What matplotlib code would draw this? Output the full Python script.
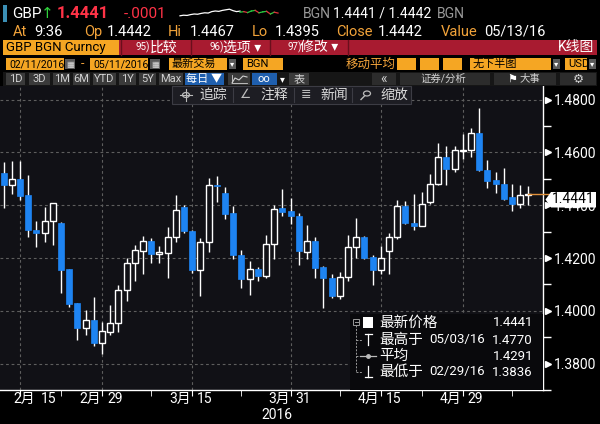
import numpy as np
import matplotlib.pyplot as plt
from matplotlib.patches import Rectangle, Polygon, Circle
from matplotlib.lines import Line2D
from matplotlib.transforms import blended_transform_factory

plt.rcParams['font.family'] = ['Roboto', 'Noto Sans CJK SC', 'DejaVu Sans']

# daily candles GBP BGN, 02/11/2016 - 05/11/2016
dates = ['02/11', '02/12', '02/15', '02/16', '02/17', '02/18', '02/19', '02/22', '02/23', '02/24',
         '02/25', '02/26', '02/29', '03/01', '03/02', '03/03', '03/04', '03/07', '03/08', '03/09',
         '03/10', '03/11', '03/14', '03/15', '03/16', '03/17', '03/18', '03/21', '03/22', '03/23',
         '03/24', '03/25', '03/28', '03/29', '03/30', '03/31', '04/01', '04/04', '04/05', '04/06',
         '04/07', '04/08', '04/11', '04/12', '04/13', '04/14', '04/15', '04/18', '04/19', '04/20',
         '04/21', '04/22', '04/25', '04/26', '04/27', '04/28', '04/29', '05/02', '05/03', '05/04',
         '05/05', '05/06', '05/09', '05/10', '05/11']
opens = [1.4522, 1.4476, 1.4501, 1.4437, 1.4307, 1.4295, 1.4339, 1.4332, 1.4157, 1.4028,
         1.3934, 1.3967, 1.3879, 1.3918, 1.3954, 1.4078, 1.4181, 1.4226, 1.4266, 1.4217,
         1.4218, 1.4281, 1.4394, 1.4302, 1.4154, 1.4259, 1.4478, 1.4446, 1.4370, 1.4212,
         1.4120, 1.4159, 1.4132, 1.4253, 1.4388, 1.4378, 1.4360, 1.4224, 1.4265, 1.4165,
         1.4124, 1.4055, 1.4128, 1.4240, 1.4278, 1.4205, 1.4156, 1.4226, 1.4280, 1.4396,
         1.4332, 1.4323, 1.4412, 1.4479, 1.4582, 1.4539, 1.4606, 1.4608, 1.4673, 1.4533,
         1.4495, 1.4482, 1.4433, 1.4406, 1.4440]
highs = [1.4564, 1.4567, 1.4567, 1.4516, 1.4339, 1.4395, 1.4409, 1.4335, 1.4160, 1.4031,
         1.4003, 1.4052, 1.3958, 1.4023, 1.4096, 1.4200, 1.4248, 1.4284, 1.4277, 1.4245,
         1.4317, 1.4437, 1.4401, 1.4307, 1.4277, 1.4503, 1.4512, 1.4469, 1.4396, 1.4229,
         1.4188, 1.4165, 1.4286, 1.4402, 1.4460, 1.4427, 1.4370, 1.4325, 1.4280, 1.4171,
         1.4140, 1.4146, 1.4287, 1.4351, 1.4284, 1.4213, 1.4244, 1.4293, 1.4421, 1.4417,
         1.4441, 1.4451, 1.4519, 1.4636, 1.4624, 1.4624, 1.4669, 1.4693, 1.4770, 1.4570,
         1.4527, 1.4543, 1.4479, 1.4475, 1.4473]
lows = [1.4389, 1.4443, 1.4419, 1.4281, 1.4242, 1.4260, 1.4251, 1.4067, 1.4016, 1.3889,
        1.3907, 1.3865, 1.3836, 1.3907, 1.3918, 1.4038, 1.4114, 1.4140, 1.4181, 1.4182,
        1.4124, 1.4259, 1.4296, 1.4142, 1.4058, 1.4223, 1.4411, 1.4346, 1.4195, 1.4087,
        1.4060, 1.4114, 1.4125, 1.4198, 1.4360, 1.4328, 1.4173, 1.4195, 1.4125, 1.4010,
        1.4050, 1.4043, 1.4112, 1.4201, 1.4195, 1.4097, 1.4140, 1.4140, 1.4271, 1.4329,
        1.4307, 1.4323, 1.4406, 1.4475, 1.4475, 1.4527, 1.4576, 1.4582, 1.4531, 1.4467,
        1.4448, 1.4418, 1.4378, 1.4390, 1.4400]
closes = [1.4476, 1.4501, 1.4435, 1.4305, 1.4295, 1.4339, 1.4407, 1.4154, 1.4025, 1.3934,
          1.3965, 1.3879, 1.3922, 1.3954, 1.4078, 1.4181, 1.4230, 1.4266, 1.4214, 1.4222,
          1.4281, 1.4382, 1.4301, 1.4153, 1.4259, 1.4478, 1.4472, 1.4367, 1.4210, 1.4119,
          1.4157, 1.4132, 1.4255, 1.4384, 1.4376, 1.4358, 1.4228, 1.4265, 1.4161, 1.4123,
          1.4055, 1.4128, 1.4240, 1.4278, 1.4201, 1.4155, 1.4201, 1.4280, 1.4396, 1.4332,
          1.4323, 1.4405, 1.4479, 1.4582, 1.4539, 1.4608, 1.4610, 1.4673, 1.4533, 1.4491,
          1.4481, 1.4424, 1.4406, 1.4439, 1.4441]

tick_dates = ['02/15', '02/29', '03/15', '03/31', '04/15', '04/29']
tick_months = ['2月', '2月', '3月', '3月', '4月', '4月']
tick_days = ['15', '29', '15', '31', '15', '29']
minor_dates = ['02/22', '03/08', '03/23', '04/08', '04/22', '05/09']
price_levels = [1.38, 1.40, 1.42, 1.44, 1.46, 1.48]
price_labels = ['1.3800', '1.4000', '1.4200', '1.4400', '1.4600', '1.4800']
minor_levels = [1.37, 1.39, 1.41, 1.43, 1.45, 1.47]
last_price = 1.4441

# intraday sparkline in the header (rough shape)
spark_white = [0.35, 0.4, 0.38, 0.45, 0.5, 0.48, 0.55, 0.6, 0.58, 0.7, 0.75, 0.72, 0.8, 0.85, 0.9, 0.78, 0.7, 0.74]
spark_color = [0.65, 0.7, 0.62, 0.75, 0.8, 0.6, 0.68, 0.72, 0.5, 0.65, 0.58]

W, H = 600, 424
BG = '#111116'
BLUE = '#1e84f2'
AMBER = '#f2a33a'

fig = plt.figure(figsize=(6, 4.24), dpi=100, facecolor='black')


def fx(x):
    return x / W


def fy(y):
    return 1 - y / H


def txt(x, y, s, c='white', size=10, ha='left', **kw):
    fig.text(fx(x), fy(y), s, color=c, fontsize=size, ha=ha, va='center', **kw)


def box(x0, y0, x1, y1, c, z=1, ec='none', lw=0):
    fig.add_artist(Rectangle((fx(x0), fy(y1)), (x1 - x0) / W, (y1 - y0) / H,
                             transform=fig.transFigure, facecolor=c, edgecolor=ec,
                             linewidth=lw, zorder=z))


def line(xs, ys, c='white', lw=1, z=2, **kw):
    fig.add_artist(Line2D([fx(v) for v in xs], [fy(v) for v in ys], color=c, lw=lw,
                          transform=fig.transFigure, zorder=z, **kw))


def ring(x, y, r, c, lw=0.9, z=4):
    fig.add_artist(Circle((fx(x), fy(y)), r / W, transform=fig.transFigure, fill=False,
                          edgecolor=c, lw=lw, zorder=z))


# ---------- header ----------
box(3, 5, 7, 22, '#3b8fb5')
txt(12, 14, 'GBP', 'white', 11)
txt(41, 14, '↑', '#2fd13c', 11, family='DejaVu Sans')
txt(57, 14, '1.4441', '#ff3347', 12, weight='bold')
txt(124, 14, '-.0001', '#ff3347', 11)
sx = np.linspace(180, 240, len(spark_white))
line(sx, [20 - 12 * v for v in spark_white], 'white', 0.9)
sx2 = np.linspace(240, 278, len(spark_color))
sy2 = [20 - 12 * v for v in spark_color]
for k in range(len(sx2) - 1):
    line(sx2[k:k + 2], sy2[k:k + 2], '#28c840' if sy2[k + 1] <= sy2[k] else '#e0303c', 0.9)
txt(303, 14, 'BGN', '#9a9a9a', 10)
txt(333, 14, '1.4441 / 1.4442', 'white', 10)
txt(437, 14, 'BGN', '#9a9a9a', 10)

row2 = [(13, 'At', AMBER), (34, '9:36', 'white'), (84, 'Op', AMBER), (107, '1.4442', 'white'),
        (168, 'Hi', AMBER), (190, '1.4467', 'white'), (252, 'Lo', AMBER), (275, '1.4395', 'white'),
        (336, 'Close', AMBER), (378, '1.4442', 'white'), (441, 'Value', AMBER), (484, '05/13/16', 'white')]
for x0, s, c in row2:
    txt(x0, 32, s, c, 10.5)

# red command bar
box(3, 40, 597, 55, '#a81b30')
box(3, 40, 119, 55, '#f5a623')
txt(6, 47.5, 'GBP BGN Curncy', 'black', 9.5)
for xs in [121, 191, 270, 348]:
    line([xs, xs], [40, 55], '#6a0f1c', 1, 3)
txt(136, 47.5, '95)', 'white', 7)
txt(150, 47.5, '比较', 'white', 10)
txt(210, 47.5, '96)', 'white', 7)
txt(223, 47.5, '选项 ▾', 'white', 10)
txt(287, 47.5, '97)', 'white', 7)
txt(300, 47.5, '修改 ▾', 'white', 10)
txt(594, 47.5, 'K线图', 'white', 10, ha='right')

# option row
for x0, x1, s in [(6, 64, '02/11/2016'), (90, 148, '05/11/2016'), (169, 227, '最新交易'),
                  (243, 283, 'BGN'), (470, 551, '无下半图'), (565, 587, 'USD')]:
    box(x0, 58, x1, 70, '#f5a623')
    txt(x0 + 3, 64, s, 'black', 7.5 if '/' in s else 8)
for x0 in [65, 150]:
    box(x0, 59, x0 + 10, 69, '#5a5a5a')
    txt(x0 + 5, 64, '▦', '#dddddd', 6, ha='center', family='DejaVu Sans')
txt(81, 64, '-', AMBER, 9)
for x0 in [229, 553, 589]:
    box(x0, 59, x0 + 7, 69, '#5a5a5a')
    txt(x0 + 3.5, 64, '▾', 'white', 6, ha='center', family='DejaVu Sans')
txt(346, 64, '移动平均', AMBER, 9)
for x0, x1 in [(397, 416), (420, 439), (443, 462)]:
    box(x0, 58, x1, 70, '#f5a623')

# range buttons row
box(3, 72, 597, 86, '#161616')
for x0, x1, s in [(6, 25, '1D'), (29, 50, '3D'), (53, 70, '1M'), (73, 90, '6M'), (93, 116, 'YTD'),
                  (119, 136, '1Y'), (139, 156, '5Y'), (159, 183, 'Max')]:
    box(x0, 73, x1, 85, '#3a3a3a')
    txt((x0 + x1) / 2, 79, s, '#d0d0d0', 8, ha='center')
box(185, 73, 224, 85, '#1f5fae')
txt(204, 79, '每日 ▼', 'white', 8, ha='center')
box(228, 73, 250, 85, '#3a3a3a')
line([232, 235, 239, 243, 247], [83, 78, 80, 76, 77], '#d0d0d0', 0.8, 3)
line([232, 232, 247], [75, 83, 83], '#d0d0d0', 0.6, 3)
box(252, 73, 277, 85, '#1f5fae')
txt(264, 79, 'oo', 'white', 8, ha='center')
txt(282, 79, '▾', 'white', 7, ha='center', family='DejaVu Sans')
box(289, 73, 309, 85, '#3a3a3a')
txt(299, 79, '表', '#d0d0d0', 8, ha='center')
box(372, 73, 396, 85, '#2c2c2c')
txt(384, 79, '«', '#d0d0d0', 10, ha='center')
box(400, 73, 490, 85, '#2c2c2c')
txt(420, 79, '证券/分析', '#d0d0d0', 7.5)
box(494, 73, 556, 85, '#2c2c2c')
txt(507, 79, '⚑', 'white', 8, family='DejaVu Sans')
txt(520, 79, '大事', '#d0d0d0', 7.5)
box(560, 73, 596, 85, '#2c2c2c')
txt(578, 79, '⚙', '#d0d0d0', 9, ha='center', family='DejaVu Sans')

# ---------- candlestick chart ----------
ax = fig.add_axes([0, fy(390), 543 / W, (390 - 86) / H])
ax.set_facecolor(BG)
ax.set_xlim(-0.44, 65.78)
ax.set_ylim(1.37423, 1.48518)

x = np.arange(len(dates))
o = np.array(opens)
c = np.array(closes)
up = c >= o
bottom = np.minimum(o, c)
height = np.maximum(np.abs(c - o), 0.00035)

for lvl in price_levels:
    ax.axhline(lvl, color='#5e5e5e', lw=0.8, ls=(0, (2.5, 2.5)), zorder=1)
major_idx = [dates.index(d) for d in tick_dates]
minor_idx = [dates.index(d) for d in minor_dates]
for i in major_idx:
    ax.axvline(i, color='#5e5e5e', lw=0.8, ls=(0, (2.5, 2.5)), zorder=1)

ax.vlines(x, lows, highs, color='white', lw=1, zorder=2)
ax.bar(x[up], height[up], bottom=bottom[up], width=0.72, facecolor=BG,
       edgecolor='white', lw=1, zorder=3)
ax.bar(x[~up], height[~up], bottom=bottom[~up], width=0.72, color=BLUE,
       edgecolor=BLUE, lw=0.5, zorder=3)

# last price marker line
ax.plot([x[-1], 66.5], [last_price, last_price], color='#e0903a', lw=1, zorder=4, clip_on=False)

for s in ['left', 'top']:
    ax.spines[s].set_visible(False)
for s in ['bottom', 'right']:
    ax.spines[s].set_color('white')
    ax.spines[s].set_linewidth(1)

ax.set_xticks(major_idx)
ax.set_xticks(minor_idx, minor=True)
ax.tick_params(axis='x', which='both', colors='white', length=4, direction='out',
               labelbottom=False)

ax.yaxis.tick_right()
ax.set_yticks(price_levels, price_labels)
ax.set_yticks(minor_levels, minor=True)
ax.tick_params(axis='y', which='major', length=0, pad=8, labelcolor='white', labelsize=10)
ax.tick_params(axis='y', which='minor', length=6, color='white', width=1, direction='out')
tri = blended_transform_factory(ax.transAxes, ax.transData)
ax.plot([1.009] * len(price_levels), price_levels, ls='none', marker='>', ms=5,
        color='white', transform=tri, clip_on=False)

lab = blended_transform_factory(ax.transData, ax.transAxes)
for k, i in enumerate(major_idx):
    shift = 16 if k == 0 else 0
    ax.annotate(tick_months[k], (i, 0), xycoords=lab, xytext=((shift - 1) * 0.72, -9 * 0.72),
                textcoords='offset points', ha='right', va='center', color='white', fontsize=10)
    ax.annotate(tick_days[k], (i, 0), xycoords=lab, xytext=((shift + 5) * 0.72, -9 * 0.72),
                textcoords='offset points', ha='left', va='center', color='white', fontsize=10)
txt(277, 415, '2016', 'white', 10, ha='center')

# last price tag on the axis (covers the upper half of the 1.4400 label)
fig.add_artist(Polygon([(fx(545.5), fy(199.5)), (fx(551), fy(192)), (fx(596), fy(192)),
                        (fx(596), fy(207.5)), (fx(551), fy(207.5))], closed=True,
                       transform=fig.transFigure, facecolor='white', edgecolor='none', zorder=2))
txt(573, 199.5, '1.4441', 'black', 10, ha='center', zorder=4)

# toolbar overlay
box(172, 86, 411, 104, '#1d1d23', z=2, ec='#3c3c44', lw=0.8)
ring(186, 95, 3.5, '#bbbbbb')
line([180, 192], [95, 95], '#bbbbbb', 0.8, 4)
line([186, 186], [89, 101], '#bbbbbb', 0.8, 4)
txt(199, 95, '追踪', '#d8d8d8', 10)
txt(246, 95, '∠', '#bbbbbb', 9, ha='center', family='DejaVu Sans')
txt(260, 95, '注释', '#d8d8d8', 10)
txt(306, 95, '≣', '#bbbbbb', 9, ha='center', family='DejaVu Sans')
txt(320, 95, '新闻', '#d8d8d8', 10)
ring(367, 93.5, 3.5, '#bbbbbb')
line([364.5, 361], [96, 99.5], '#bbbbbb', 1, 4)
txt(380, 95, '缩放', '#d8d8d8', 10)
for xs in [233, 294, 352]:
    line([xs, xs], [88, 102], '#3c3c44', 0.8, 3)

# legend panel
box(350, 314, 542.5, 389.5, '#09090c', z=2)
box(353, 319, 359, 325, 'none', z=3, ec='#9a9a9a', lw=0.7)
line([354.5, 357.5], [322, 322], '#9a9a9a', 0.7, 4)
line([356, 356], [325, 372], '#9a9a9a', 0.7, 4, ls=(0, (2, 1.5)))
for yy in [340, 356, 372]:
    line([356, 362], [yy, yy], '#9a9a9a', 0.7, 4, ls=(0, (2, 1.5)))
box(363, 317, 373, 328, 'white', z=3)
line([368, 368], [334, 345], 'white', 0.9, 4)
line([364.5, 371.5], [334, 334], 'white', 0.9, 4)
line([360, 376], [356, 356], '#bbbbbb', 0.9, 4)
fig.add_artist(Line2D([fx(368)], [fy(356)], marker='o', ms=2.5, color='#bbbbbb',
                      transform=fig.transFigure, zorder=4))
line([368, 368], [366, 377], 'white', 0.9, 4)
line([364.5, 371.5], [377, 377], 'white', 0.9, 4)
txt(379, 323, '最新价格', 'white', 10.5)
txt(533, 323, '1.4441', 'white', 9.5, ha='right')
txt(379, 340, '最高于', 'white', 10.5)
txt(429, 340, '05/03/16', 'white', 9.5)
txt(533, 340, '1.4770', 'white', 9.5, ha='right')
txt(379, 356, '平均', 'white', 10.5)
txt(533, 356, '1.4291', 'white', 9.5, ha='right')
txt(379, 372, '最低于', 'white', 10.5)
txt(429, 372, '02/29/16', 'white', 9.5)
txt(533, 372, '1.3836', 'white', 9.5, ha='right')

fig.savefig('out.png', dpi=100, facecolor='black')
